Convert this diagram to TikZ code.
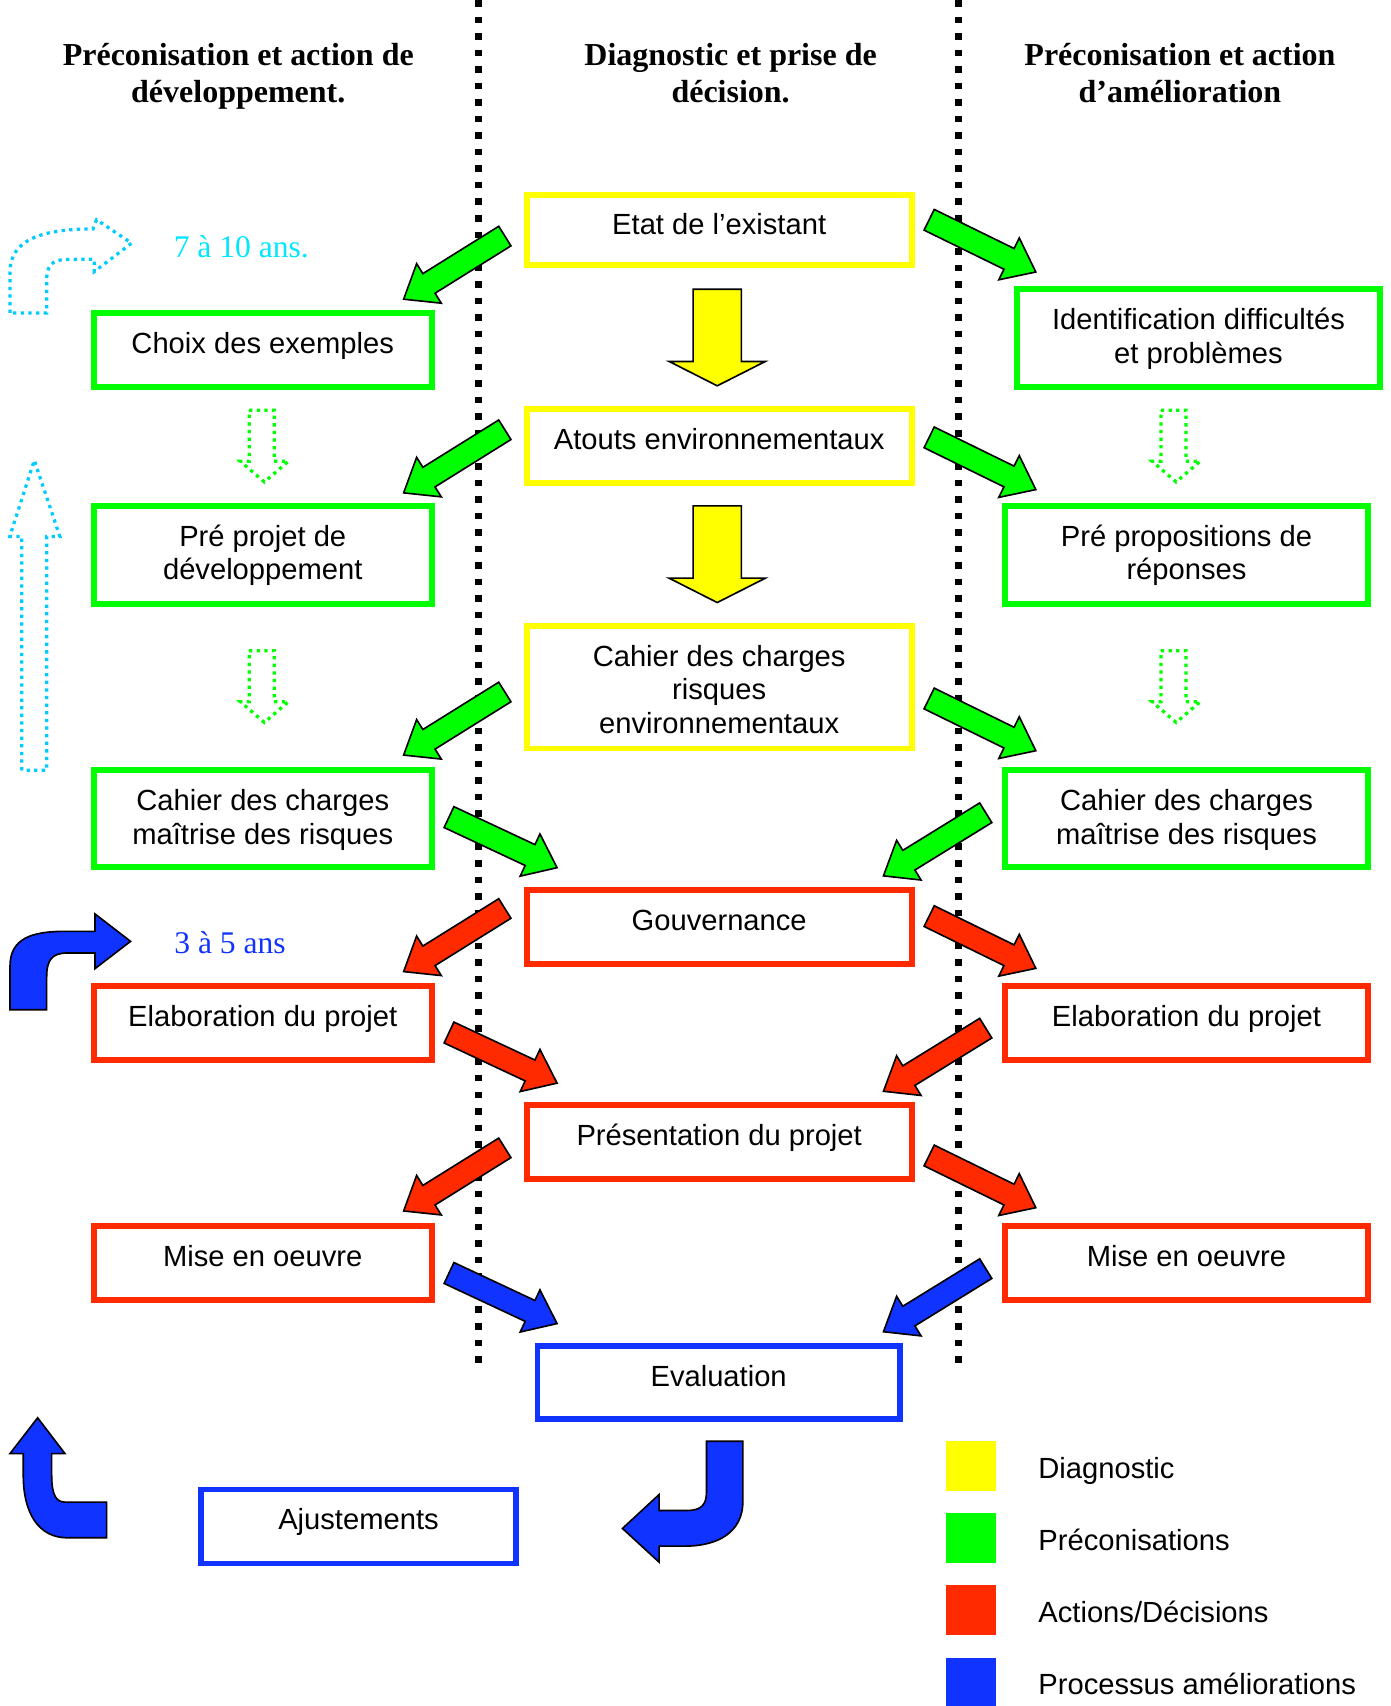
\documentclass[tikz,border=0pt]{standalone}
\usepackage{fontspec}
\setmainfont{Liberation Sans}
\newfontfamily\timesfont{Liberation Serif}
\usetikzlibrary{calc,fit}

\definecolor{cY}{RGB}{255,255,0}
\definecolor{cG}{RGB}{0,255,0}
\definecolor{cR}{RGB}{255,42,0}
\definecolor{cB}{RGB}{17,51,255}
\definecolor{cC}{RGB}{0,204,255}
\definecolor{cCt}{RGB}{0,230,255}

\tikzset{
  bx/.style={draw, line width=2.7pt, inner sep=0pt, outer sep=0pt},
  ybx/.style={bx, draw=cY},
  gbx/.style={bx, draw=cG},
  rbx/.style={bx, draw=cR},
  bbx/.style={bx, draw=cB},
  txt/.style={font=\fontsize{13.4}{15.4}\selectfont, align=center, inner sep=0pt, anchor=north},
  legtxt/.style={font=\fontsize{13.4}{15.4}\selectfont, inner sep=0pt, anchor=base west},
  hdtext/.style={font=\timesfont\bfseries\fontsize{14.7}{17}\selectfont, align=center, inner sep=0pt, anchor=north},
  yrtext/.style={font=\timesfont\fontsize{14.5}{17}\selectfont, inner sep=0pt, anchor=base west},
  blockarrow/.style={draw=black, line width=0.75pt, line join=miter},
  dotarrow/.style={line width=1.5pt, dash pattern=on 1.5pt off 2pt},
  divider/.style={line width=3pt, dash pattern=on 3pt off 4.6pt},
}

% color, tail, tip, half shaft, half head, head length
\newcommand{\blockarrow}[6]{%
  \coordinate (hb) at ($(#3)!#6!(#2)$);
  \draw[blockarrow, fill=#1]
    ($(#2)!#4!90:(#3)$) -- ($(hb)!#4!90:(#3)$) -- ($(hb)!#5!90:(#3)$) -- (#3)
    -- ($(hb)!#5!-90:(#3)$) -- ($(hb)!#4!-90:(#3)$) -- ($(#2)!#4!-90:(#3)$) -- cycle;
}
\newcommand{\darrow}[3]{\blockarrow{#1}{#2}{#3}{5.3pt}{10.7pt}{13.7pt}}

\begin{document}
\begin{tikzpicture}[x=0.5pt,y=-0.5pt]
\useasboundingbox (0,0) rectangle (1278,1568);

% dividers
\draw[divider] (440,0) -- (440,1260);
\draw[divider] (881,0) -- (881,1260);

% headings
\node[hdtext] (hL) at (219,36.2) {\strut Préconisation et action de\\\strut développement.};
\node[hdtext] (hM) at (671.5,36.2) {\strut Diagnostic et prise de\\\strut décision.};
\node[hdtext] (hR) at (1084.5,36.2) {\strut Préconisation et action\\\strut d’amélioration};

% center column
\node[ybx, fit={(484,179.5)(838,243.5)}] (etat) {};
\node[txt] (etat-t) at ($(etat.north)+(0,13.7)$) {\strut Etat de l’existant};
\node[ybx, fit={(484,376)(838,444)}] (atouts) {};
\node[txt] (atouts-t) at ($(atouts.north)+(0,15.2)$) {\strut Atouts environnementaux};
\node[ybx, fit={(484,575)(838,688)}] (cenv) {};
\node[txt] (cenv-t) at ($(cenv.north)+(0,15.2)$) {\strut Cahier des charges\\\strut risques\\\strut environnementaux};
\node[rbx, fit={(484,818)(838,886)}] (gouv) {};
\node[txt] (gouv-t) at ($(gouv.north)+(0,15.2)$) {\strut Gouvernance};
\node[rbx, fit={(484,1016)(838,1084)}] (pres) {};
\node[txt] (pres-t) at ($(pres.north)+(0,15.2)$) {\strut Présentation du projet};
\node[bbx, fit={(494,1237)(827,1304)}] (eval) {};
\node[txt] (eval-t) at ($(eval.north)+(0,15.2)$) {\strut Evaluation};

% left column
\node[gbx, fit={(86,288)(397,356)}] (choix) {};
\node[txt] (choix-t) at ($(choix.north)+(0,15.2)$) {\strut Choix des exemples};
\node[gbx, fit={(86,465)(397,555)}] (prep) {};
\node[txt] (prep-t) at ($(prep.north)+(0,15.2)$) {\strut Pré projet de\\\strut développement};
\node[gbx, fit={(86,708)(397,797)}] (cahL) {};
\node[txt] (cahL-t) at ($(cahL.north)+(0,15.2)$) {\strut Cahier des charges\\\strut maîtrise des risques};
\node[rbx, fit={(86,906)(397,974)}] (elabL) {};
\node[txt] (elabL-t) at ($(elabL.north)+(0,15.2)$) {\strut Elaboration du projet};
\node[rbx, fit={(86,1127)(397,1195)}] (miseL) {};
\node[txt] (miseL-t) at ($(miseL.north)+(0,15.2)$) {\strut Mise en oeuvre};
\node[bbx, fit={(185,1369)(474,1437)}] (ajust) {};
\node[txt] (ajust-t) at ($(ajust.north)+(0,15.2)$) {\strut Ajustements};

% right column
\node[gbx, fit={(935,266)(1268,356)}] (ident) {};
\node[txt] (ident-t) at ($(ident.north)+(0,15.2)$) {\strut Identification difficultés\\\strut et problèmes};
\node[gbx, fit={(924,465)(1257,555)}] (prop) {};
\node[txt] (prop-t) at ($(prop.north)+(0,15.2)$) {\strut Pré propositions de\\\strut réponses};
\node[gbx, fit={(924,708)(1257,797)}] (cahR) {};
\node[txt] (cahR-t) at ($(cahR.north)+(0,15.2)$) {\strut Cahier des charges\\\strut maîtrise des risques};
\node[rbx, fit={(924,906)(1257,974)}] (elabR) {};
\node[txt] (elabR-t) at ($(elabR.north)+(0,15.2)$) {\strut Elaboration du projet};
\node[rbx, fit={(924,1127)(1257,1195)}] (miseR) {};
\node[txt] (miseR-t) at ($(miseR.north)+(0,15.2)$) {\strut Mise en oeuvre};

% yellow arrows
\blockarrow{cY}{659.2,265.8}{659.2,354.6}{11.1pt}{22.1pt}{11.2pt}
\blockarrow{cY}{659.2,465}{659.2,553.8}{11.1pt}{22.1pt}{11.2pt}

% left down-left arrows
\darrow{cG}{464,217}{371,275}
\darrow{cG}{464,395}{371,453}
\darrow{cG}{464,636}{371,694}
\darrow{cR}{464,835}{371,893}
\darrow{cR}{464,1055}{371,1113}
% right down-right arrows
\darrow{cG}{854,202}{952,250}
\darrow{cG}{854,402}{952,450}
\darrow{cG}{854,642}{952,690}
\darrow{cR}{854,842}{952,890}
\darrow{cR}{854,1062}{952,1110}
% to center from left
\darrow{cG}{412.7,751}{512,797.5}
\darrow{cR}{412.7,949}{512,995.5}
\darrow{cB}{412.7,1170}{512,1216.5}
% to center from right
\darrow{cG}{906,747}{812,805}
\darrow{cR}{906,945}{812,1003}
\darrow{cB}{906,1166}{812,1224}

% green dotted arrows
\draw[dotarrow, draw=cG] (229,377) -- (252,377) -- (252,424) -- (265,424) -- (243,443) -- (221,424) -- (229,424) -- cycle;
\draw[dotarrow, draw=cG] (229,598) -- (252,598) -- (252,645) -- (265,645) -- (243,664) -- (221,645) -- (229,645) -- cycle;
\draw[dotarrow, draw=cG] (1067,377) -- (1090,377) -- (1090,424) -- (1103,424) -- (1081,443) -- (1059,424) -- (1067,424) -- cycle;
\draw[dotarrow, draw=cG] (1067,598) -- (1090,598) -- (1090,645) -- (1103,645) -- (1081,664) -- (1059,645) -- (1067,645) -- cycle;

% cyan dotted arrows
\draw[dotarrow, draw=cC] (9.2,287.6) -- (9.2,250) .. controls (9.2,222) and (35,210.4) .. (85.5,210.4)
  -- (88.8,202) -- (121,223.5) -- (86.7,249.6) -- (86.5,238.2) -- (60,238.5)
  .. controls (47,239) and (42.9,245) .. (42.9,258) -- (42.9,287.6) -- cycle;
\draw[dotarrow, draw=cC] (20,708) -- (20,493) -- (9,493) -- (31.5,423) -- (55,493) -- (43,493) -- (43,708) -- cycle;
\node[yrtext, text=cCt] (yr1) at (159.3,236.4) {7 à 10 ans.};

% blue bent arrows
\draw[blockarrow, fill=cB] (9.2,928) -- (9.2,888) .. controls (9.2,862) and (30,856) .. (60,856) -- (87.3,856)
  -- (87.3,840) -- (120,865.2) -- (87.3,890.3) -- (87.3,875.9) -- (62,875.9)
  .. controls (48,875.9) and (42.9,882) .. (42.9,898) -- (42.9,928) -- cycle;
\node[yrtext, text=cB] (yr2) at (159.9,876) {3 à 5 ans};

\draw[blockarrow, fill=cB] (34.6,1303.1) -- (59.7,1336) -- (47.5,1336) -- (47.5,1356)
  .. controls (47.5,1375) and (52,1380.6) .. (60,1380.6) -- (98,1380.6) -- (98,1413.4) -- (62,1413.4)
  .. controls (35,1413.4) and (21.4,1390) .. (21.4,1356) -- (21.4,1336) -- (9.2,1336) -- cycle;

\draw[blockarrow, fill=cB] (649.3,1324.6) -- (682.8,1324.6) -- (682.8,1380)
  .. controls (682.8,1408) and (660,1421) .. (630,1421) -- (605.8,1421) -- (605.8,1435.8)
  -- (572.1,1404.8) -- (605.8,1373.6) -- (605.8,1388.3) -- (632,1388.3)
  .. controls (645,1388.3) and (649.3,1382) .. (649.3,1372) -- cycle;

% legend
\node[fill=cY, inner sep=0pt, outer sep=0pt, fit={(869.2,1324.6)(915,1370.5)}] (legY) {};
\node[fill=cG, inner sep=0pt, outer sep=0pt, fit={(869.2,1391)(915,1436.3)}] (legG) {};
\node[fill=cR, inner sep=0pt, outer sep=0pt, fit={(869.2,1457)(915,1503)}] (legR) {};
\node[fill=cB, inner sep=0pt, outer sep=0pt, fit={(869.2,1523.6)(915,1568)}] (legB) {};
\node[legtxt] (legY-t) at (954,1359.2) {Diagnostic};
\node[legtxt] (legG-t) at (954,1424.7) {Préconisations};
\node[legtxt] (legR-t) at (954,1491.5) {Actions/Décisions};
\node[legtxt] (legB-t) at (954,1557.3) {Processus améliorations};
\end{tikzpicture}
\end{document}
